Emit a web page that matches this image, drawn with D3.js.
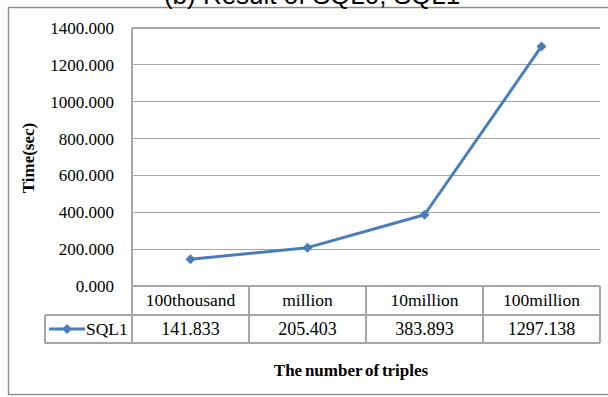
<!DOCTYPE html>
<html>
<head>
<meta charset="utf-8">
<script src="https://cdn.jsdelivr.net/npm/d3@7"></script>
<style>
  html, body { margin: 0; padding: 0; background: #fff; }
  svg { display: block; }
</style>
</head>
<body>
<svg id="chart" width="608" height="397"></svg>
<script>
// Query time for SQL1 by dataset size
const categories = ["100thousand", "million", "10million", "100million"];
const seriesName = "SQL1";
const sql1Values = [141.833, 205.403, 383.893, 1297.138];
const yTicks = [0, 200, 400, 600, 800, 1000, 1200, 1400];
const titleText = "(b) Result of SQL0, SQL1";
const yTitle = "Time(sec)";
const xTitle = "The number of triples";

const svg = d3.select("#chart");
const W = 608, H = 397;
const plot = { left: 132, right: 600, top: 27.5, bottom: 285.5 };
const rowH = [29.5, 28];
const legendLeft = 45;
const serif = "Liberation Serif";
const sans = "Liberation Sans";
const lineColor = "#4a7ebb";
const gridColor = "#a6a6a6";
const tableColor = "#a6a6a6";

// outer chart frame
svg.append("rect")
  .attr("x", 8.5).attr("y", 7.5)
  .attr("width", W + 10).attr("height", H - 10)
  .attr("fill", "#fff")
  .attr("stroke", "#8c8c8c").attr("stroke-width", 1.4);

// title, partly above the canvas
svg.append("text")
  .attr("x", 312).attr("y", 4)
  .attr("text-anchor", "middle")
  .attr("font-family", sans)
  .attr("font-size", 26)
  .attr("fill", "#000")
  .text(titleText);

const x = d3.scaleBand().domain(categories).range([plot.left, plot.right]).padding(0);
const y = d3.scaleLinear().domain([0, 1400]).range([plot.bottom, plot.top]);

// gridlines + y tick labels
const yAxis = d3.axisLeft(y).tickValues(yTicks)
  .tickSize(-(plot.right - plot.left))
  .tickPadding(18)
  .tickFormat(d3.format(".3f"));
const gy = svg.append("g")
  .attr("transform", `translate(${plot.left},0)`)
  .call(yAxis)
  .attr("font-family", serif)
  .attr("font-size", 17);
gy.select(".domain").remove();
gy.selectAll(".tick line").attr("stroke", gridColor).attr("stroke-width", 1.2)
  .attr("shape-rendering", "crispEdges");
gy.selectAll(".tick text")
  .attr("font-family", serif).attr("font-size", 17).attr("fill", "#000")
  .attr("dy", "0.35em");

// vertical axis line
svg.append("line")
  .attr("x1", plot.left).attr("x2", plot.left)
  .attr("y1", plot.top).attr("y2", plot.bottom)
  .attr("stroke", gridColor).attr("stroke-width", 1.2)
  .attr("shape-rendering", "crispEdges");

// data table below the plot
const tTop = plot.bottom;
const tMid = tTop + rowH[0];
const tBot = tMid + rowH[1];
const tbl = svg.append("g").attr("stroke", tableColor).attr("stroke-width", 1.2)
  .attr("shape-rendering", "crispEdges");
tbl.append("line").attr("x1", plot.left).attr("x2", plot.right).attr("y1", tTop).attr("y2", tTop);
tbl.append("line").attr("x1", legendLeft).attr("x2", plot.right).attr("y1", tMid).attr("y2", tMid);
tbl.append("line").attr("x1", legendLeft).attr("x2", plot.right).attr("y1", tBot).attr("y2", tBot);
tbl.append("line").attr("x1", legendLeft).attr("x2", legendLeft).attr("y1", tMid).attr("y2", tBot);
const edges = categories.map(c => x(c)).concat([plot.right]);
tbl.selectAll("line.col").data(edges).enter().append("line")
  .attr("class", "col")
  .attr("x1", d => d).attr("x2", d => d)
  .attr("y1", tTop).attr("y2", tBot);

const txt = svg.append("g").attr("font-family", serif).attr("fill", "#000");

txt.append("g").selectAll("text").data(categories).enter().append("text")
  .attr("x", d => x(d) + x.bandwidth() / 2)
  .attr("y", tTop + rowH[0] / 2)
  .attr("dy", "0.35em")
  .attr("text-anchor", "middle")
  .attr("font-family", serif).attr("font-size", 17.5)
  .text(d => d);

txt.append("g").selectAll("text").data(sql1Values).enter().append("text")
  .attr("x", (d, i) => x(categories[i]) + x.bandwidth() / 2)
  .attr("y", tMid + rowH[1] / 2)
  .attr("dy", "0.35em")
  .attr("text-anchor", "middle")
  .attr("font-family", serif).attr("font-size", 18)
  .text(d => d3.format(".3f")(d));

// legend key in the table
const diamond = d3.symbol().type(d3.symbolDiamond2).size(64);
const ly = tMid + rowH[1] / 2;
svg.append("line")
  .attr("x1", 49).attr("x2", 85).attr("y1", ly).attr("y2", ly)
  .attr("stroke", lineColor).attr("stroke-width", 3);
svg.append("path")
  .attr("d", diamond)
  .attr("transform", `translate(67,${ly})`)
  .attr("fill", lineColor);
txt.append("text")
  .attr("x", 86).attr("y", ly).attr("dy", "0.35em")
  .attr("font-family", serif).attr("font-size", 17.5)
  .text(seriesName);

// series line and markers
const pts = sql1Values.map((v, i) => [x(categories[i]) + x.bandwidth() / 2, y(v)]);
svg.append("path")
  .attr("d", d3.line()(pts))
  .attr("fill", "none")
  .attr("stroke", lineColor).attr("stroke-width", 3)
  .attr("stroke-linejoin", "round");
svg.append("g").selectAll("path").data(pts).enter().append("path")
  .attr("d", diamond)
  .attr("transform", d => `translate(${d[0]},${d[1]})`)
  .attr("fill", lineColor);

// axis titles
txt.append("text")
  .attr("transform", "translate(28,158) rotate(-90)")
  .attr("text-anchor", "middle")
  .attr("dy", "0.35em")
  .attr("font-family", serif).attr("font-size", 17).attr("font-weight", "bold")
  .text(yTitle);

txt.append("text")
  .attr("x", 351).attr("y", 376)
  .attr("text-anchor", "middle")
  .attr("font-family", serif).attr("font-size", 17).attr("font-weight", "bold")
  .attr("word-spacing", "-1.5")
  .text(xTitle);
</script>
</body>
</html>
